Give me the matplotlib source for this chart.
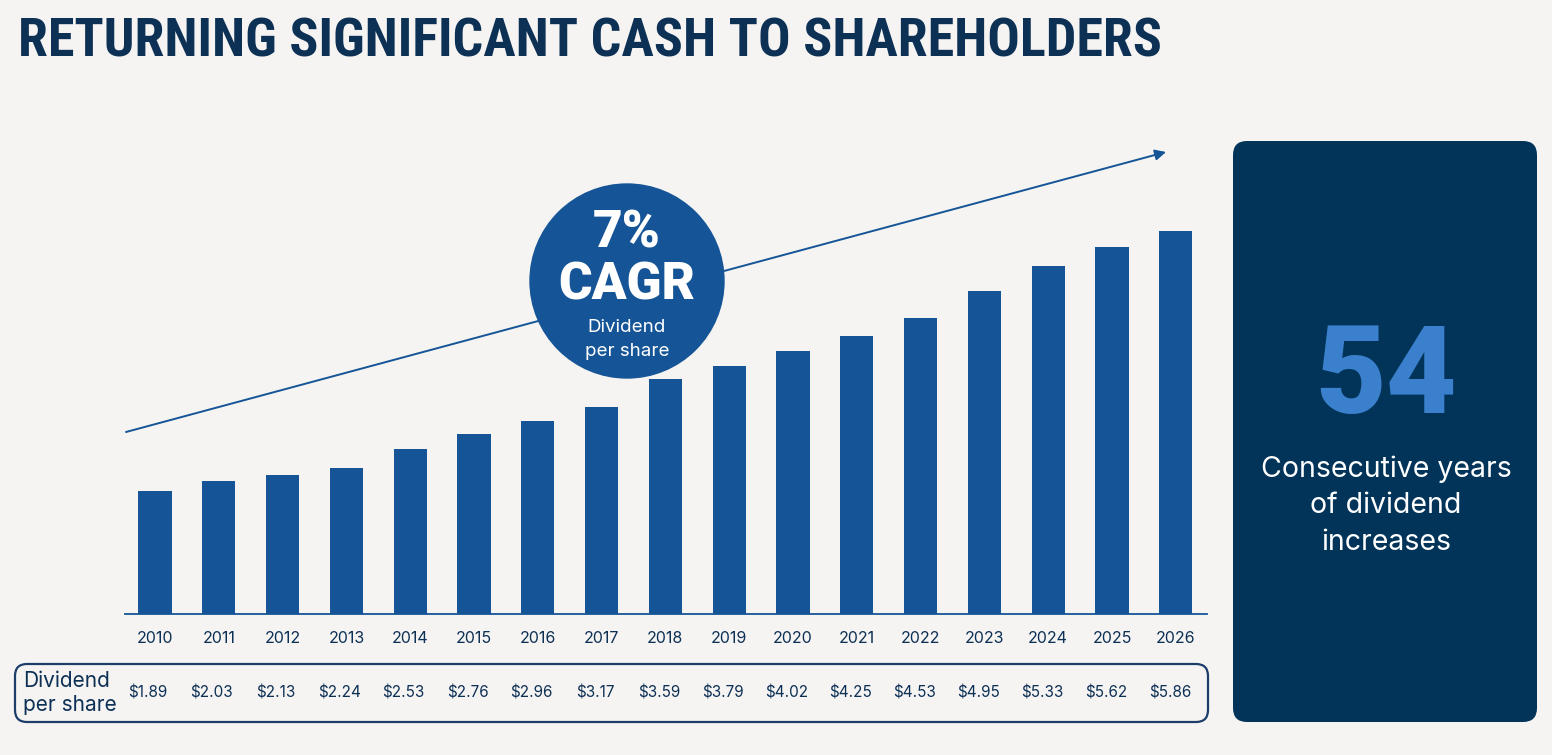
import matplotlib
matplotlib.use('Agg')
import matplotlib.pyplot as plt
from matplotlib.patches import FancyBboxPatch, Circle

# data
years = ['2010', '2011', '2012', '2013', '2014', '2015', '2016', '2017', '2018',
         '2019', '2020', '2021', '2022', '2023', '2024', '2025', '2026']
dps = [1.89, 2.03, 2.13, 2.24, 2.53, 2.76, 2.96, 3.17, 3.59,
       3.79, 4.02, 4.25, 4.53, 4.95, 5.33, 5.62, 5.86]
dps_labels = ['$%.2f' % v for v in dps]

title = 'RETURNING SIGNIFICANT CASH TO SHAREHOLDERS'
cagr_big = ['7%', 'CAGR']
cagr_small = ['Dividend', 'per share']
streak = '54'
streak_text = ['Consecutive years', 'of dividend', 'increases']

BG = '#f5f4f2'
NAVY = '#02345a'
BAR = '#155597'
TXT = '#0d3055'
LIGHT = '#3a80cc'

W, H = 1552, 755
fig = plt.figure(figsize=(W / 100, H / 100), dpi=100, facecolor=BG)
plt.rcParams['font.family'] = ['Inter', 'Lato', 'DejaVu Sans']
narrow = ['Roboto Condensed', 'DejaVu Sans Condensed', 'Liberation Sans Narrow', 'DejaVu Sans']
heavy = ['Roboto', 'DejaVu Sans']

# bar axes placed in pixel terms
ax = fig.add_axes([125 / W, 141 / H, (1207 - 125) / W, (614 - 141) / H])
ax.set_facecolor('none')
x = list(range(len(years)))
ax.bar(x, dps, width=0.52, color=BAR, zorder=2)
ax.set_xlim(-0.47, 16.49)
ax.set_ylim(0, 7.24)
for s in ['top', 'right', 'left']:
    ax.spines[s].set_visible(False)
ax.spines['bottom'].set_color(BAR)
ax.spines['bottom'].set_linewidth(1.3)
ax.set_yticks([])
ax.set_xticks(x)
ax.set_xticklabels(years, fontsize=11.5, color=TXT)
ax.tick_params(axis='x', length=0, pad=12)

# overlay in pixel coordinates (y down)
ov = fig.add_axes([0, 0, 1, 1], zorder=3)
ov.set_xlim(0, W)
ov.set_ylim(H, 0)
ov.axis('off')
ov.patch.set_alpha(0)

# trend arrow
ov.annotate('', xy=(1166, 152), xytext=(126, 432),
            arrowprops=dict(arrowstyle='-|>', color=BAR, lw=1.4,
                            mutation_scale=16, shrinkA=0, shrinkB=0))

# CAGR circle
ov.add_patch(Circle((627, 281), 97, color=BAR, zorder=4))
ov.text(627, 234, cagr_big[0], ha='center', va='center', color='white',
        fontsize=37, fontweight='black', family=heavy, zorder=5)
ov.text(627, 286, cagr_big[1], ha='center', va='center', color='white',
        fontsize=37, fontweight='black', family=heavy, zorder=5)
ov.text(627, 328, cagr_small[0], ha='center', va='center', color='white',
        fontsize=13.5, zorder=5)
ov.text(627, 351, cagr_small[1], ha='center', va='center', color='white',
        fontsize=13.5, zorder=5)

# title
t = ov.text(18, 42, title, ha='left', va='center', color=TXT,
            fontsize=40, fontweight='heavy', fontstretch='condensed', family=narrow)
fig.canvas.draw()
bw = t.get_window_extent().width
t.set_fontsize(40 * 1142 / bw)

# dividend table
ov.add_patch(FancyBboxPatch((15, 664), 1193, 58, boxstyle='round,pad=0,rounding_size=12',
                            fc='none', ec='#1d3e6b', lw=1.6))
ov.text(23, 681, 'Dividend', ha='left', va='center', color=TXT, fontsize=15)
ov.text(23, 705, 'per share', ha='left', va='center', color=TXT, fontsize=15)
for i, lab in enumerate(dps_labels):
    ov.text(148 + 63.9 * i, 693, lab, ha='center', va='center', color=TXT, fontsize=11)

# right panel
ov.add_patch(FancyBboxPatch((1233, 141), 304, 581, boxstyle='round,pad=0,rounding_size=14',
                            fc=NAVY, ec='none'))
ov.text(1386, 380, streak, ha='center', va='center', color=LIGHT,
        fontsize=88, fontweight='black', family=heavy)
for j, line in enumerate(streak_text):
    ov.text(1386, 469 + 36.5 * j, line, ha='center', va='center', color='white',
            fontsize=20.5)

fig.savefig('out.png', dpi=100, facecolor=BG)
